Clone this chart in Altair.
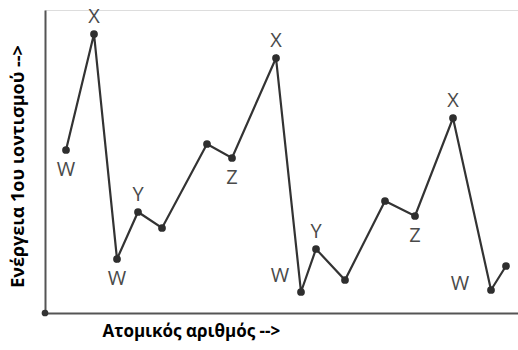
import altair as alt
import pandas as pd

# Data (arbitrary units)
atomic = [21, 49, 72, 93, 117, 162, 187, 231, 256, 271, 300, 340, 370, 408, 446, 461]
energy = [163, 279, 54, 101, 85, 169, 155, 255, 21, 64, 33, 112, 97, 195, 23, 47]
labels = ["W", "X", "W", "Y", "", "", "Z", "X", "W", "Y", "", "", "Z", "X", "W", ""]
label_pos = ["below", "above", "below", "above", "", "", "below", "above",
             "upleft", "above", "", "", "below", "above", "left", ""]

df = pd.DataFrame({"x": atomic, "y": energy, "label": labels, "pos": label_pos})
origin = pd.DataFrame({"x": [0], "y": [0]})

xs = alt.Scale(domain=[0, 473], nice=False, zero=False)
ys = alt.Scale(domain=[0, 303], nice=False, zero=False)

x_axis = alt.Axis(title="Ατομικός αριθμός -->", labels=False, ticks=False, grid=False,
                  domainColor="#555555", domainWidth=2,
                  titleFont="Open Sans", titleFontSize=17, titleFontWeight="bold",
                  titleColor="#000000", titleAlign="left", titleBaseline="middle",
                  titleX=57, titleY=18)
y_axis = alt.Axis(title="Ενέργεια 1ου ιοντισμού -->", labels=False, ticks=False, grid=False,
                  domainColor="#555555", domainWidth=2,
                  titleFont="Open Sans", titleFontSize=18, titleFontWeight="bold",
                  titleColor="#000000", titleAngle=270, titleBaseline="middle",
                  titleX=-27, titleY=156)

base = alt.Chart(df)

line = base.mark_line(color="#333333", strokeWidth=2.2).encode(
    x=alt.X("x:Q", scale=xs, axis=x_axis),
    y=alt.Y("y:Q", scale=ys, axis=y_axis),
    order="x:Q",
)
pts = base.mark_circle(color="#2e2e2e", size=60, opacity=1).encode(
    x=alt.X("x:Q", scale=xs), y=alt.Y("y:Q", scale=ys)
)
org = alt.Chart(origin).mark_circle(color="#333333", size=45, opacity=1).encode(
    x=alt.X("x:Q", scale=xs), y=alt.Y("y:Q", scale=ys)
)

def lbl(pos, dx, dy):
    return base.transform_filter(alt.datum.pos == pos).mark_text(
        font="Open Sans", fontSize=20, color="#4a4a4a", dx=dx, dy=dy,
        baseline="middle", align="center"
    ).encode(x=alt.X("x:Q", scale=xs), y=alt.Y("y:Q", scale=ys), text="label:N")

chart = alt.layer(
    line, pts, org,
    lbl("above", 0, -17), lbl("below", 0, 20), lbl("upleft", -21, -16), lbl("left", -31, -6)
).properties(
    width=473, height=303,
    padding={"left": 45, "top": 10, "right": 0, "bottom": 37},
    autosize=alt.AutoSizeParams(type="none"),
).configure_view(stroke=None).configure(background="white")

chart.save("out.html", embed_options={"renderer": "svg", "actions": False})
